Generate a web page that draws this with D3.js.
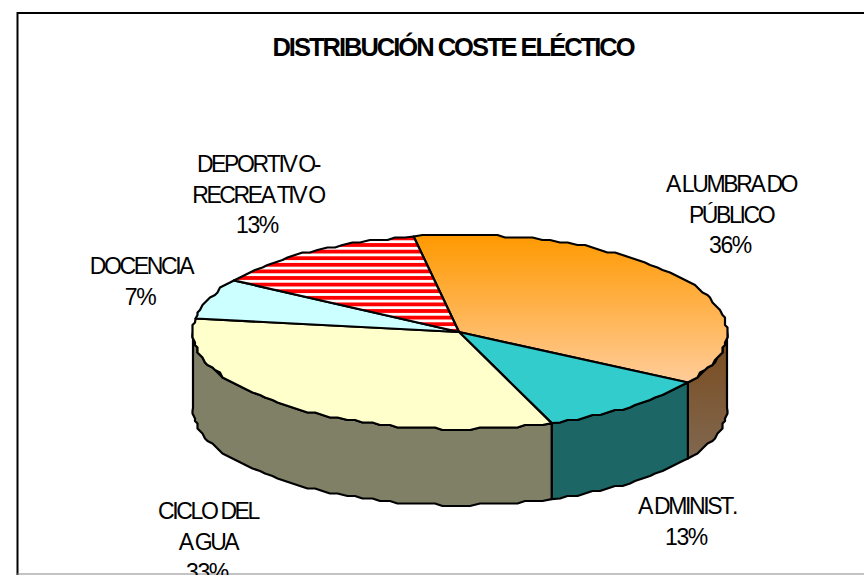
<!DOCTYPE html>
<html><head><meta charset="utf-8">
<script src="https://cdn.jsdelivr.net/npm/d3@7"></script>
<style>html,body{margin:0;padding:0;background:#fff;overflow:hidden}svg{display:block}
text{font-family:"Liberation Sans",Arial,sans-serif;fill:#000;font-kerning:none}</style>
</head><body><svg id="c" width="864" height="575"></svg>
<script>
const title = "DISTRIBUCIÓN COSTE ELÉCTICO";
const categories = ["ALUMBRADO PÚBLICO","ADMINIST.","CICLO DEL AGUA","DOCENCIA","DEPORTIVO-RECREATIVO"];
const sliceShares = [36.5,10.7,32.8,6.7,13.3];
const percentLabels = ["36%","13%","33%","7%","13%"];
const labelLines = [["ALUMBRADO","PÚBLICO"],["ADMINIST."],["CICLO DEL","AGUA"],["DOCENCIA"],["DEPORTIVO-","RECREATIVO"]];
const labelAnchors = [[731,192],[687,514],[208,519],[141,274],[258,172]];
const topFills = ["url(#gOrange)","#33CCCC","#FFFFCC","#CCFFFF","url(#stripes)"];
const sideFills = ["url(#gBrown)","#1C6666","#808066","#808066","#808066"];

const cx=460, cy=332, rx=267, ry=97, depth=76, startAngle=-10*Math.PI/180;
const svg=d3.select("#c");
const defs=svg.append("defs");
const lg=(id,a,b,y1,y2)=>{const g=defs.append("linearGradient").attr("id",id).attr("gradientUnits","userSpaceOnUse").attr("x1",0).attr("x2",0).attr("y1",y1).attr("y2",y2);
 g.append("stop").attr("offset",0).attr("stop-color",a);g.append("stop").attr("offset",1).attr("stop-color",b);};
lg("gOrange","#FF9900","#FFCC99",cy-ry,cy+50);
lg("gBrown","#7A4A1C","#806850",cy,cy+ry+30);
const p=defs.append("pattern").attr("id","stripes").attr("patternUnits","userSpaceOnUse").attr("width",8).attr("height",6.6).attr("y",236.5);
p.append("rect").attr("width",8).attr("height",6.6).attr("fill","#fff");
p.append("rect").attr("width",8).attr("height",3.8).attr("fill","#FF0000");

svg.append("path").attr("d","M17.5,575V13H864").attr("fill","none").attr("stroke","#000").attr("stroke-width",2);
svg.append("path").attr("d","M17,574H864").attr("fill","none").attr("stroke","#888").attr("stroke-width",1);

const arcs=d3.pie().sort(null).value(d=>d).startAngle(startAngle).endAngle(startAngle+2*Math.PI)(sliceShares);
const grid=2.5;
const snap=v=>Math.round(v/grid)*grid;
function pt(a,dy){return [snap(cx+rx*Math.sin(a)),snap(cy-ry*Math.cos(a))+(dy||0)];}
function exact(a,dy){return [cx+rx*Math.sin(a),cy-ry*Math.cos(a)+(dy||0)];}
function edge(a0,a1,dy){
  const n=Math.max(2,Math.ceil(Math.abs(a1-a0)/(2*Math.PI/180)));
  const out=[];
  for(let i=0;i<=n;i++){const a=a0+(a1-a0)*i/n;out.push((i==0||i==n)?exact(a,dy):pt(a,dy));}
  return out;
}
const line=d3.line();
const PI=Math.PI;
arcs.forEach((d,i)=>{
  const a0=Math.max(d.startAngle,PI/2), a1=Math.min(d.endAngle,3*PI/2);
  if(a1<=a0) return;
  const pts=edge(a0,a1,0).concat(edge(a1,a0,depth));
  svg.append("path").attr("d",line(pts)+"Z").attr("fill",sideFills[i]).attr("stroke","#000").attr("stroke-width",2.2).attr("stroke-linejoin","round");
});
arcs.forEach((d,i)=>{
  const pts=[[cx-1,cy]].concat(edge(d.startAngle,d.endAngle,0));
  svg.append("path").attr("d",line(pts)+"Z").attr("fill",topFills[i]).attr("stroke","#000").attr("stroke-width",2.2).attr("stroke-linejoin","round");
});

svg.append("text").attr("x",453).attr("y",56).attr("text-anchor","middle").attr("font-size",25.5).attr("font-weight","bold").attr("letter-spacing",-2).text(title);

const fs=23, lh=30.5, gap=3;
const gapList=s=>Array.from(s,(ch,i)=>(i>0&&/[AV]/.test(s[i-1]))?gap:0).join(" ");
categories.forEach((c,i)=>{
  const [x,y]=labelAnchors[i];
  const t=svg.append("text").attr("text-anchor","middle").attr("font-size",fs);
  const lines=labelLines[i];
  lines.forEach((s,k)=>{
    t.append("tspan").attr("x",x).attr("y",y+k*lh).attr("dx",gapList(s)).attr("letter-spacing",-2.4).text(s);
  });
  t.append("tspan").attr("x",x-1).attr("y",y+lines.length*lh).attr("letter-spacing",-1.4).text(percentLabels[i]);
});
</script></body></html>
